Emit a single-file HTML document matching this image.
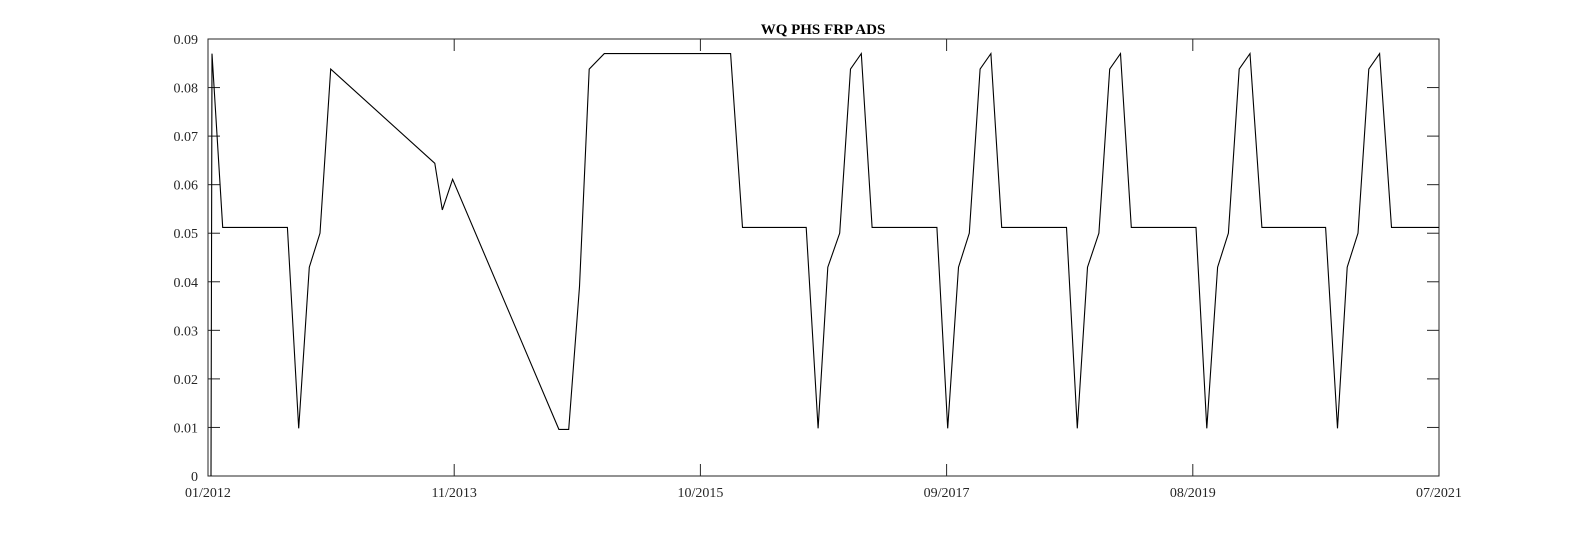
<!DOCTYPE html>
<html><head><meta charset="utf-8"><style>
html,body{margin:0;padding:0;background:#fff;}
svg{display:block;font-family:"Liberation Serif",serif;}
</style></head><body>
<svg id="chart" width="1591" height="536" viewBox="0 0 1591 536" xmlns="http://www.w3.org/2000/svg">
<rect x="0" y="0" width="1591" height="536" fill="#fff"/>
<text x="823" y="34" text-anchor="middle" font-size="15" font-weight="bold">WQ PHS FRP ADS</text>
<g id="plot"></g>
</svg>
<script>
// months since 01/2012
const monthsX = [0.28,0.37,1.36,7.35,8.4,9.38,10.37,11.36,21.0,21.7,22.65,32.5,33.4,34.4,35.3,36.7,48.4,49.5,55.4,56.5,57.4,58.5,59.5,60.5,61.5,67.5,68.5,69.5,70.5,71.5,72.5,73.5,79.5,80.5,81.45,82.5,83.5,84.5,85.5,91.5,92.5,93.5,94.5,95.5,96.5,97.6,103.5,104.6,105.5,106.5,107.5,108.5,109.6,114];
const valuesY = [0,0.087,0.0512,0.0512,0.0098,0.043,0.050,0.0838,0.0644,0.0548,0.0611,0.0096,0.0096,0.039,0.0838,0.087,0.087,0.0512,0.0512,0.0098,0.043,0.050,0.0838,0.087,0.0512,0.0512,0.0098,0.043,0.050,0.0838,0.087,0.0512,0.0512,0.0098,0.043,0.050,0.0838,0.087,0.0512,0.0512,0.0098,0.043,0.050,0.0838,0.087,0.0512,0.0512,0.0098,0.043,0.050,0.0838,0.087,0.0512,0.0512];
const xTickLabels = ["01/2012","11/2013","10/2015","09/2017","08/2019","07/2021"];
const yTickValues = [0,0.01,0.02,0.03,0.04,0.05,0.06,0.07,0.08,0.09];
const yTickLabels = ["0","0.01","0.02","0.03","0.04","0.05","0.06","0.07","0.08","0.09"];

const L=208,R=1439,T=39,B=476, XMAX=114, YMAX=0.09;
const sx=m=>L+(m/XMAX)*(R-L);
const sy=v=>B-(v/YMAX)*(B-T);
const NS="http://www.w3.org/2000/svg";
const g=document.getElementById('plot');
function mk(tag,attrs){const e=document.createElementNS(NS,tag);for(const k in attrs)e.setAttribute(k,attrs[k]);g.appendChild(e);return e;}

const frame=mk('rect',{x:L,y:T,width:R-L,height:B-T,fill:'none',stroke:'#262626','stroke-width':1});



yTickValues.forEach((v,i)=>{
  const y=sy(v);
  const t1=mk('line',{x1:L,x2:L+12,y1:y,y2:y,stroke:'#262626'});
  
  
  const t2=mk('line',{x1:R-12,x2:R,y1:y,y2:y,stroke:'#262626'});
  
  
  const tx=mk('text',{x:L-10,y:y+5,'text-anchor':'end','font-size':14,fill:'#262626'});
  tx.textContent=yTickLabels[i];
  
  
});
xTickLabels.forEach((lab,i)=>{
  const x=L+i*(R-L)/(xTickLabels.length-1);
  const t1=mk('line',{x1:x,x2:x,y1:B,y2:B-12,stroke:'#262626'});
  
  
  const t2=mk('line',{x1:x,x2:x,y1:T,y2:T+12,stroke:'#262626'});
  
  
  const tx=mk('text',{x:x,y:B+21,'text-anchor':'middle','font-size':14,fill:'#262626'});
  tx.textContent=lab;
  
  
});
const pts=monthsX.map((m,i)=>sx(m).toFixed(1)+','+sy(valuesY[i]).toFixed(1)).join(' ');
const line=mk('polyline',{points:pts,fill:'none',stroke:'#000','stroke-width':1.1,'stroke-linejoin':'miter'});


</script>
</body></html>
